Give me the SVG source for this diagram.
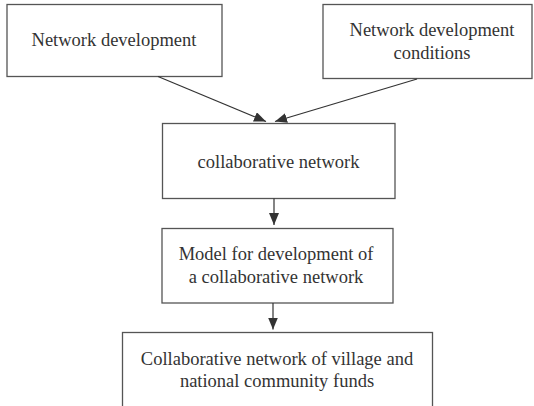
<svg xmlns="http://www.w3.org/2000/svg" width="534" height="406" viewBox="0 0 534 406">
<defs>
<style>
.box{fill:#fff;stroke:#555;stroke-width:1.3}
.t{font-family:'Liberation Serif','DejaVu Serif',serif;font-size:18.5px;fill:#333;text-anchor:middle}
.c{stroke:#333;stroke-width:1.2;fill:none;marker-end:url(#ah)}
</style>
<marker id="ah" viewBox="0 0 12 10" refX="12" refY="5" markerWidth="12" markerHeight="10" markerUnits="userSpaceOnUse" orient="auto">
<path d="M0,0 L12,5 L0,10 z" fill="#333"/>
</marker>
</defs>
<rect width="534" height="406" fill="#fff"/>
<g id="n1"><rect class="box" x="7" y="4.5" width="215" height="72"/><text class="t" x="114" y="46">Network development</text></g>
<g id="n2"><rect class="box" x="323" y="4.5" width="209" height="74"/><text class="t" x="432" y="36">Network development</text><text class="t" x="432" y="59">conditions</text></g>
<g id="n3"><rect class="box" x="162.5" y="123.5" width="232.5" height="75"/><text class="t" x="278.5" y="168">collaborative network</text></g>
<g id="n4"><rect class="box" x="162" y="228.5" width="231" height="74.5"/><text class="t" x="276" y="260">Model for development of</text><text class="t" x="276" y="283">a collaborative network</text></g>
<g id="n5"><rect class="box" x="122.5" y="332.5" width="310" height="90"/><text class="t" x="277" y="365">Collaborative network of village and</text><text class="t" x="277" y="387">national community funds</text></g>
<g id="connectors">
<line class="c" x1="158" y1="76.5" x2="266" y2="121.5"/>
<line class="c" x1="417" y1="79" x2="275" y2="121.5"/>
<line class="c" x1="274" y1="198.5" x2="274" y2="225"/>
<line class="c" x1="273" y1="303" x2="273" y2="329.5"/>
</g>
</svg>
